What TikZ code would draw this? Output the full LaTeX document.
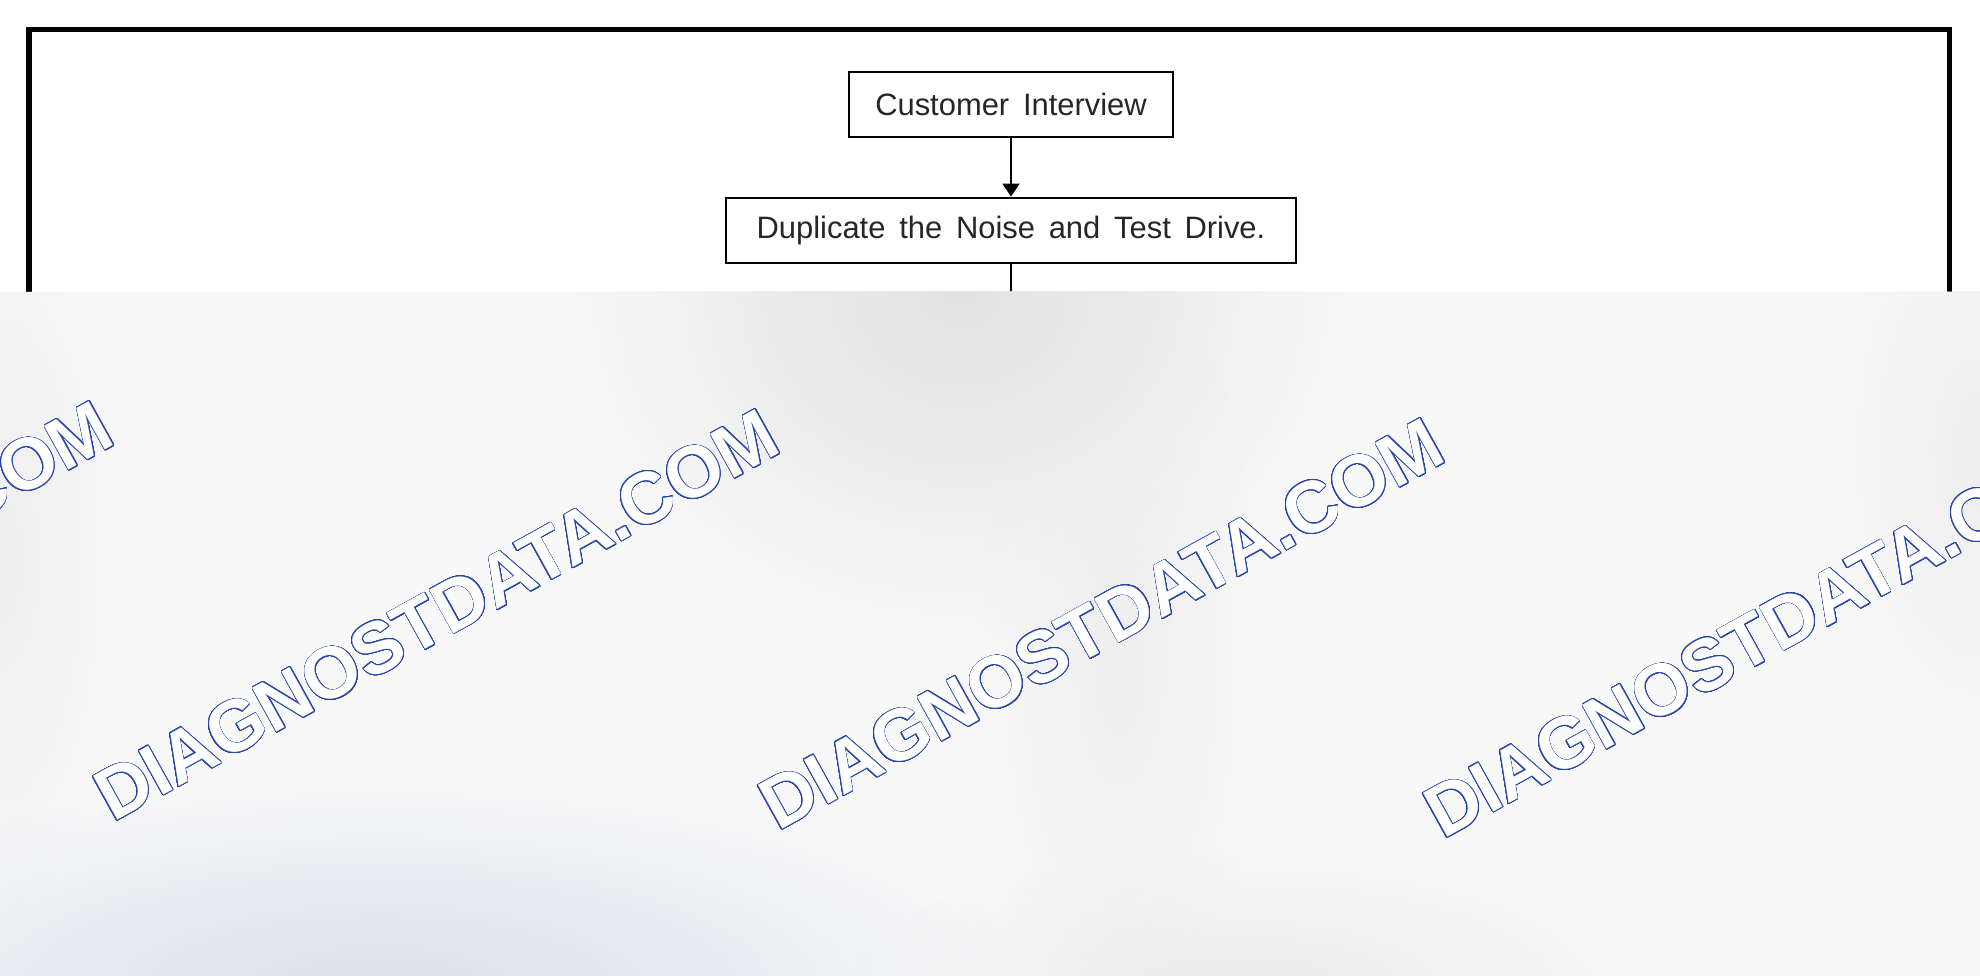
\documentclass[tikz,border=0pt]{standalone}
\usepackage{fontspec}
\setmainfont{Liberation Sans}
\newfontfamily\flowfont[WordSpace=1.6]{Liberation Sans}
\usepackage{contour}
\contourlength{0.4pt}
\contournumber{40}
\usetikzlibrary{arrows.meta,fadings}

\definecolor{haze}{RGB}{248,248,249}
\definecolor{hazegray}{RGB}{226,226,227}
\definecolor{hazelow}{RGB}{218,223,233}
\definecolor{markblue}{RGB}{38,70,172}

\tikzfading[name=blob, inner color=transparent!0, outer color=transparent!100]

\tikzset{
  box/.style={draw, line width=1.6pt, minimum height=1.3cm, inner sep=0pt,
    font=\flowfont\fontsize{17.6}{20}\selectfont, text=black!85},
  wmark/.style={rotate=29, anchor=base west, inner sep=0pt,
    font=\bfseries\fontsize{41.5}{44}\selectfont}
}

\begin{document}
\begin{tikzpicture}[x=0.02cm, y=-0.02cm]
  \useasboundingbox (0,0) rectangle (1980,976);
  \fill[white] (0,0) rectangle (1980,976);
  \draw[line width=2.85pt] (29,976) -- (29,29.5) -- (1949,29.5) -- (1949,976);

  \node[box, minimum width=6.48cm] (interview) at (1011,104.5) {Customer Interview};
  \node[box, minimum width=11.4cm] (duplicate) at (1011,230.5) {Duplicate the Noise and Test Drive.};
  \coordinate (cut) at (1011,292);
  \draw[line width=1.1pt, -{Triangle[width=0.34cm,length=0.26cm]}] (interview) -- (duplicate);
  \draw[line width=1.1pt] (duplicate) -- (cut);

  % haze over the lower part
  \fill[haze] (0,292) rectangle (1980,976);
  \begin{scope}
    \clip (0,292) rectangle (1980,976);
    \fill[hazegray, path fading=blob] (960,292) ellipse (8cm and 7cm);
    \foreach \x/\y/\rx/\ry in {1120/660/2.8/8, 0/560/2.4/7, 1980/450/3/6}
      \fill[hazegray!45!haze, path fading=blob] (\x,\y) ellipse ({\rx cm} and {\ry cm});
    \fill[hazelow, path fading=blob] (380,990) ellipse (13cm and 4.2cm);
    \fill[hazegray!60!haze, path fading=blob] (1250,990) ellipse (8cm and 2.8cm);
  \end{scope}

  \foreach \x/\y [count=\i] in {-553/815, 113/823, 778/832, 1443/840}
    \node[wmark] (mark\i) at (\x,\y) {\contour{markblue}{\textcolor{white}{DIAGNOSTDATA.COM}}};
\end{tikzpicture}
\end{document}
